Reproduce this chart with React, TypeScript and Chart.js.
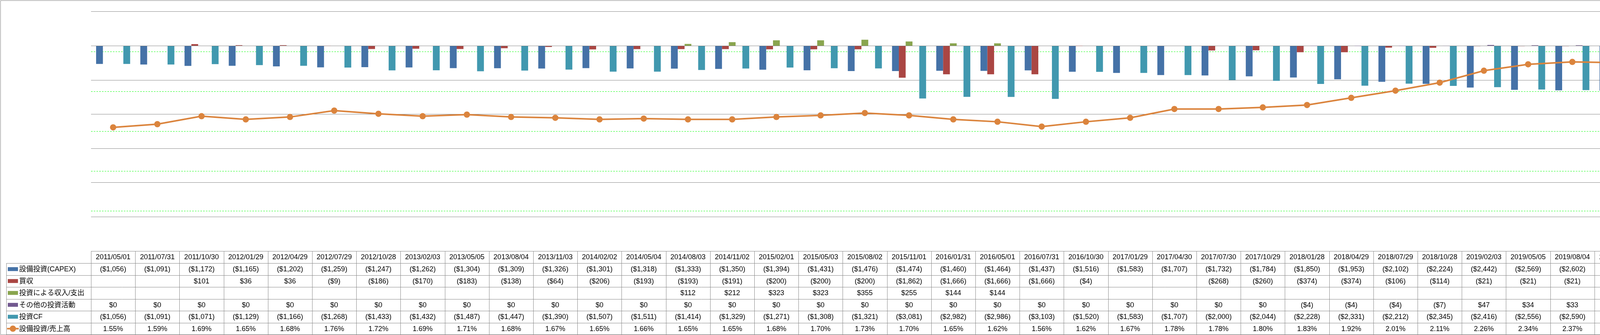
import React, { useEffect, useRef } from 'react';
import { Chart, registerables } from 'chart.js';

Chart.register(...registerables);

const categories = [
  '2011/05/01', '2011/07/31', '2011/10/30', '2012/01/29', '2012/04/29', '2012/07/29', '2012/10/28',
  '2013/02/03', '2013/05/05', '2013/08/04', '2013/11/03', '2014/02/02', '2014/05/04', '2014/08/03',
  '2014/11/02', '2015/02/01', '2015/05/03', '2015/08/02', '2015/11/01', '2016/01/31', '2016/05/01',
  '2016/07/31', '2016/10/30', '2017/01/29', '2017/04/30', '2017/07/30', '2017/10/29', '2018/01/28',
  '2018/04/29', '2018/07/29', '2018/10/28', '2019/02/03', '2019/05/05', '2019/08/04', '2019/11/03',
  '2020/02/02', '2020/05/03', '2020/08/02', '2020/11/01', '2021/01/31',
];

const capex = [
  -1056, -1091, -1172, -1165, -1202, -1259, -1247, -1262, -1304, -1309, -1326, -1301, -1318, -1333,
  -1350, -1394, -1431, -1476, -1474, -1460, -1464, -1437, -1516, -1583, -1707, -1732, -1784, -1850,
  -1953, -2102, -2224, -2442, -2569, -2602, -2622, -2678, -2581, -2463, -2256, -2463,
];

const acquisitions = [
  null, null, 101, 36, 36, -9, -186, -170, -183, -138, -64, -206, -193, -193,
  -191, -200, -200, -200, -1862, -1666, -1666, -1666, -4, null, null, -268, -260, -374,
  -374, -106, -114, -21, -21, -21, -21, null, null, null, null, -7780,
];

const investmentProceeds = [
  null, null, null, null, null, null, null, null, null, null, null, null, null, 112,
  212, 323, 323, 355, 255, 144, 144, null, null, null, null, null, null, null,
  null, null, null, null, null, null, null, null, null, null, null, null,
];

const otherInvesting = [
  0, 0, 0, 0, 0, 0, 0, 0, 0, 0, 0, 0, 0, 0,
  0, 0, 0, 0, 0, 0, 0, 0, 0, 0, 0, 0, 0, -4,
  -4, -4, -7, 47, 34, 33, 40, 25, 38, 39, 32, 73,
];

const investingCF = [
  -1056, -1091, -1071, -1129, -1166, -1268, -1433, -1432, -1487, -1447, -1390, -1507, -1511, -1414,
  -1329, -1271, -1308, -1321, -3081, -2982, -2986, -3103, -1520, -1583, -1707, -2000, -2044, -2228,
  -2331, -2212, -2345, -2416, -2556, -2590, -2603, -2653, -2543, -2424, -2224, -10170,
];

const capexToSales = [
  1.55, 1.59, 1.69, 1.65, 1.68, 1.76, 1.72, 1.69, 1.71, 1.68, 1.67, 1.65, 1.66, 1.65,
  1.65, 1.68, 1.70, 1.73, 1.70, 1.65, 1.62, 1.56, 1.62, 1.67, 1.78, 1.78, 1.80, 1.83,
  1.92, 2.01, 2.11, 2.26, 2.34, 2.37, 2.36, 2.43, 2.30, 2.06, 1.80, 1.86,
];

const seriesNames = [
  '設備投資(CAPEX)',
  '買収',
  '投資による収入/支出',
  'その他の投資活動',
  '投資CF',
  '設備投資/売上高',
];

const unitLabel = '(単位:百万USD)';

const COLORS = ['#4572A7', '#AA4643', '#89A54E', '#71588F', '#4198AF', '#DB843D'];
const GRID_GRAY = '#888888';
const LIME = '#00FF00';
const FAMILY = "'Liberation Sans', 'Noto Sans CJK JP', sans-serif";
const FONT = `18px ${FAMILY}`;

const fmtMoney = (v: number) => {
  const s = Math.abs(v).toLocaleString('en-US');
  return v < 0 ? `($${s})` : `$${s}`;
};
const fmtPct = (v: number) => `${v.toFixed(2)}%`;

const tableRows: (number | null)[][] = [
  capex, acquisitions, investmentProceeds, otherInvesting, investingCF, capexToSales,
];

const crisp = (v: number) => Math.round(v) + 0.5;

const drawKey = (ctx: CanvasRenderingContext2D, idx: number, x: number, cy: number) => {
  if (idx < 5) {
    ctx.fillStyle = COLORS[idx];
    ctx.fillRect(x, cy - 5, 26, 10);
  } else {
    ctx.strokeStyle = COLORS[5];
    ctx.lineWidth = 4;
    ctx.beginPath();
    ctx.moveTo(x - 2, cy);
    ctx.lineTo(x + 28, cy);
    ctx.stroke();
    ctx.fillStyle = COLORS[5];
    ctx.beginPath();
    ctx.arc(x + 13, cy, 8, 0, Math.PI * 2);
    ctx.fill();
  }
};

const tablePlugin = {
  id: 'dataTable',
  beforeDraw(chart: any) {
    const { ctx, width, height } = chart;
    ctx.save();
    ctx.fillStyle = '#ffffff';
    ctx.fillRect(0, 0, width, height);
    ctx.restore();
  },
  afterDraw(chart: any) {
    const { ctx, chartArea, width, height } = chart;
    const xs = chart.scales.x;
    const y1 = chart.scales.y1;
    const n = categories.length;
    const colW = (chartArea.right - chartArea.left) / n;
    const top = chartArea.bottom;
    const headerH = 31;
    const rowH = 30.5;
    const rowsTop = top + headerH;
    const bottom = rowsTop + rowH * tableRows.length;
    const tableLeft = 16;
    const tableRight = chartArea.right;

    ctx.save();
    ctx.strokeStyle = LIME;
    ctx.lineWidth = 1;
    ctx.setLineDash([4, 3]);
    ctx.beginPath();
    ctx.moveTo(crisp(y1.left), chartArea.top);
    ctx.lineTo(crisp(y1.left), chartArea.bottom);
    ctx.stroke();
    ctx.setLineDash([]);

    ctx.strokeStyle = GRID_GRAY;
    ctx.lineWidth = 1;
    ctx.beginPath();
    ctx.moveTo(chartArea.left, crisp(top));
    ctx.lineTo(tableRight, crisp(top));
    for (let r = 0; r <= tableRows.length; r++) {
      const y = crisp(rowsTop + r * rowH);
      ctx.moveTo(tableLeft, y);
      ctx.lineTo(tableRight + 1, y);
    }
    for (let i = 0; i <= n; i++) {
      const xb = crisp(chartArea.left + i * colW);
      ctx.moveTo(xb, top);
      ctx.lineTo(xb, bottom);
    }
    ctx.moveTo(crisp(tableLeft), rowsTop);
    ctx.lineTo(crisp(tableLeft), bottom);
    ctx.stroke();

    ctx.font = FONT;
    ctx.fillStyle = '#000000';
    ctx.textAlign = 'center';
    ctx.textBaseline = 'middle';
    for (let i = 0; i < n; i++) {
      const cx = xs.getPixelForValue(i);
      ctx.fillText(categories[i], cx, top + headerH / 2 + 1);
      tableRows.forEach((row, r) => {
        const v = row[i];
        if (v === null || v === undefined) return;
        const txt = r === 5 ? fmtPct(v) : fmtMoney(v);
        ctx.fillText(txt, cx, rowsTop + r * rowH + rowH / 2 + 1);
      });
    }

    ctx.textAlign = 'left';
    seriesNames.forEach((name, r) => {
      const cy = rowsTop + r * rowH + rowH / 2;
      drawKey(ctx, r, 20, cy);
      ctx.fillStyle = '#000000';
      ctx.font = FONT;
      ctx.fillText(name, 49, cy + 1);
      drawKey(ctx, r, tableRight + 4, cy);
      ctx.fillStyle = '#000000';
      ctx.font = FONT;
      ctx.fillText(name, tableRight + 33, cy + 1);
    });
    ctx.font = `17px ${FAMILY}`;
    ctx.fillText(unitLabel, tableRight + 16, top + headerH / 2 + 6);

    ctx.strokeStyle = GRID_GRAY;
    ctx.lineWidth = 1;
    ctx.strokeRect(1.5, 1.5, width - 3, height - 2.5);
    ctx.restore();
  },
};

export default function App() {
  const canvasRef = useRef<HTMLCanvasElement | null>(null);

  useEffect(() => {
    const canvas = canvasRef.current;
    if (!canvas) return;
    const chart = new Chart(canvas, {
      type: 'bar',
      data: {
        labels: categories,
        datasets: [
          { label: seriesNames[0], data: capex, backgroundColor: COLORS[0], yAxisID: 'y', order: 1 },
          { label: seriesNames[1], data: acquisitions, backgroundColor: COLORS[1], yAxisID: 'y', order: 1 },
          { label: seriesNames[2], data: investmentProceeds, backgroundColor: COLORS[2], yAxisID: 'y', order: 1 },
          { label: seriesNames[3], data: otherInvesting, backgroundColor: COLORS[3], yAxisID: 'y', order: 1 },
          { label: seriesNames[4], data: investingCF, backgroundColor: COLORS[4], yAxisID: 'y', order: 1 },
          {
            type: 'line',
            label: seriesNames[5],
            data: capexToSales,
            yAxisID: 'y1',
            borderColor: COLORS[5],
            backgroundColor: COLORS[5],
            borderWidth: 4,
            pointRadius: 8,
            pointHoverRadius: 8,
            pointBorderWidth: 0,
            pointBackgroundColor: COLORS[5],
            tension: 0,
            order: 0,
          } as any,
        ],
      },
      options: {
        responsive: false,
        animation: false,
        layout: { padding: { left: 233, top: 13, right: 0, bottom: 215 } },
        datasets: { bar: { categoryPercentage: 0.77, barPercentage: 1 } } as any,
        plugins: { legend: { display: false }, tooltip: { enabled: false } },
        scales: {
          x: { display: false },
          y: {
            position: 'right',
            weight: 0,
            min: -12000,
            max: 2000,
            ticks: {
              stepSize: 2000,
              padding: 19,
              font: { family: FAMILY, size: 18 },
              color: (c: any) => (c.tick && c.tick.value < 0 ? '#FF0000' : '#000000'),
              callback: (v: any) => fmtMoney(Number(v)),
            },
            grid: { color: GRID_GRAY, lineWidth: 1, drawTicks: false },
            border: { display: true, color: GRID_GRAY, width: 1 },
            afterFit: (s: any) => { s.width = 98; },
          },
          y1: {
            position: 'right',
            weight: 1,
            min: 0,
            max: 3,
            ticks: {
              stepSize: 0.5,
              padding: 15,
              font: { family: FAMILY, size: 18 },
              color: '#000000',
              callback: (v: any) => fmtPct(Number(v)),
            },
            grid: {
              color: (c: any) => (c.tick && (c.tick.value === 0 || c.tick.value === 3) ? 'rgba(0,0,0,0)' : LIME),
              lineWidth: 1,
              drawTicks: true,
              tickLength: 4,
              tickColor: LIME,
              tickBorderDash: [4, 3],
            },
            border: { display: false, dash: [4, 3] },
            afterFit: (s: any) => { s.width = 122; },
          },
        } as any,
      },
      plugins: [tablePlugin],
    });
    return () => chart.destroy();
  }, []);

  return (
    <div style={{ position: 'fixed', left: 0, top: 0, width: 4981, height: 858, background: '#fff' }}>
      <canvas ref={canvasRef} width={4981} height={858} style={{ width: 4981, height: 858, display: 'block' }} />
    </div>
  );
}
